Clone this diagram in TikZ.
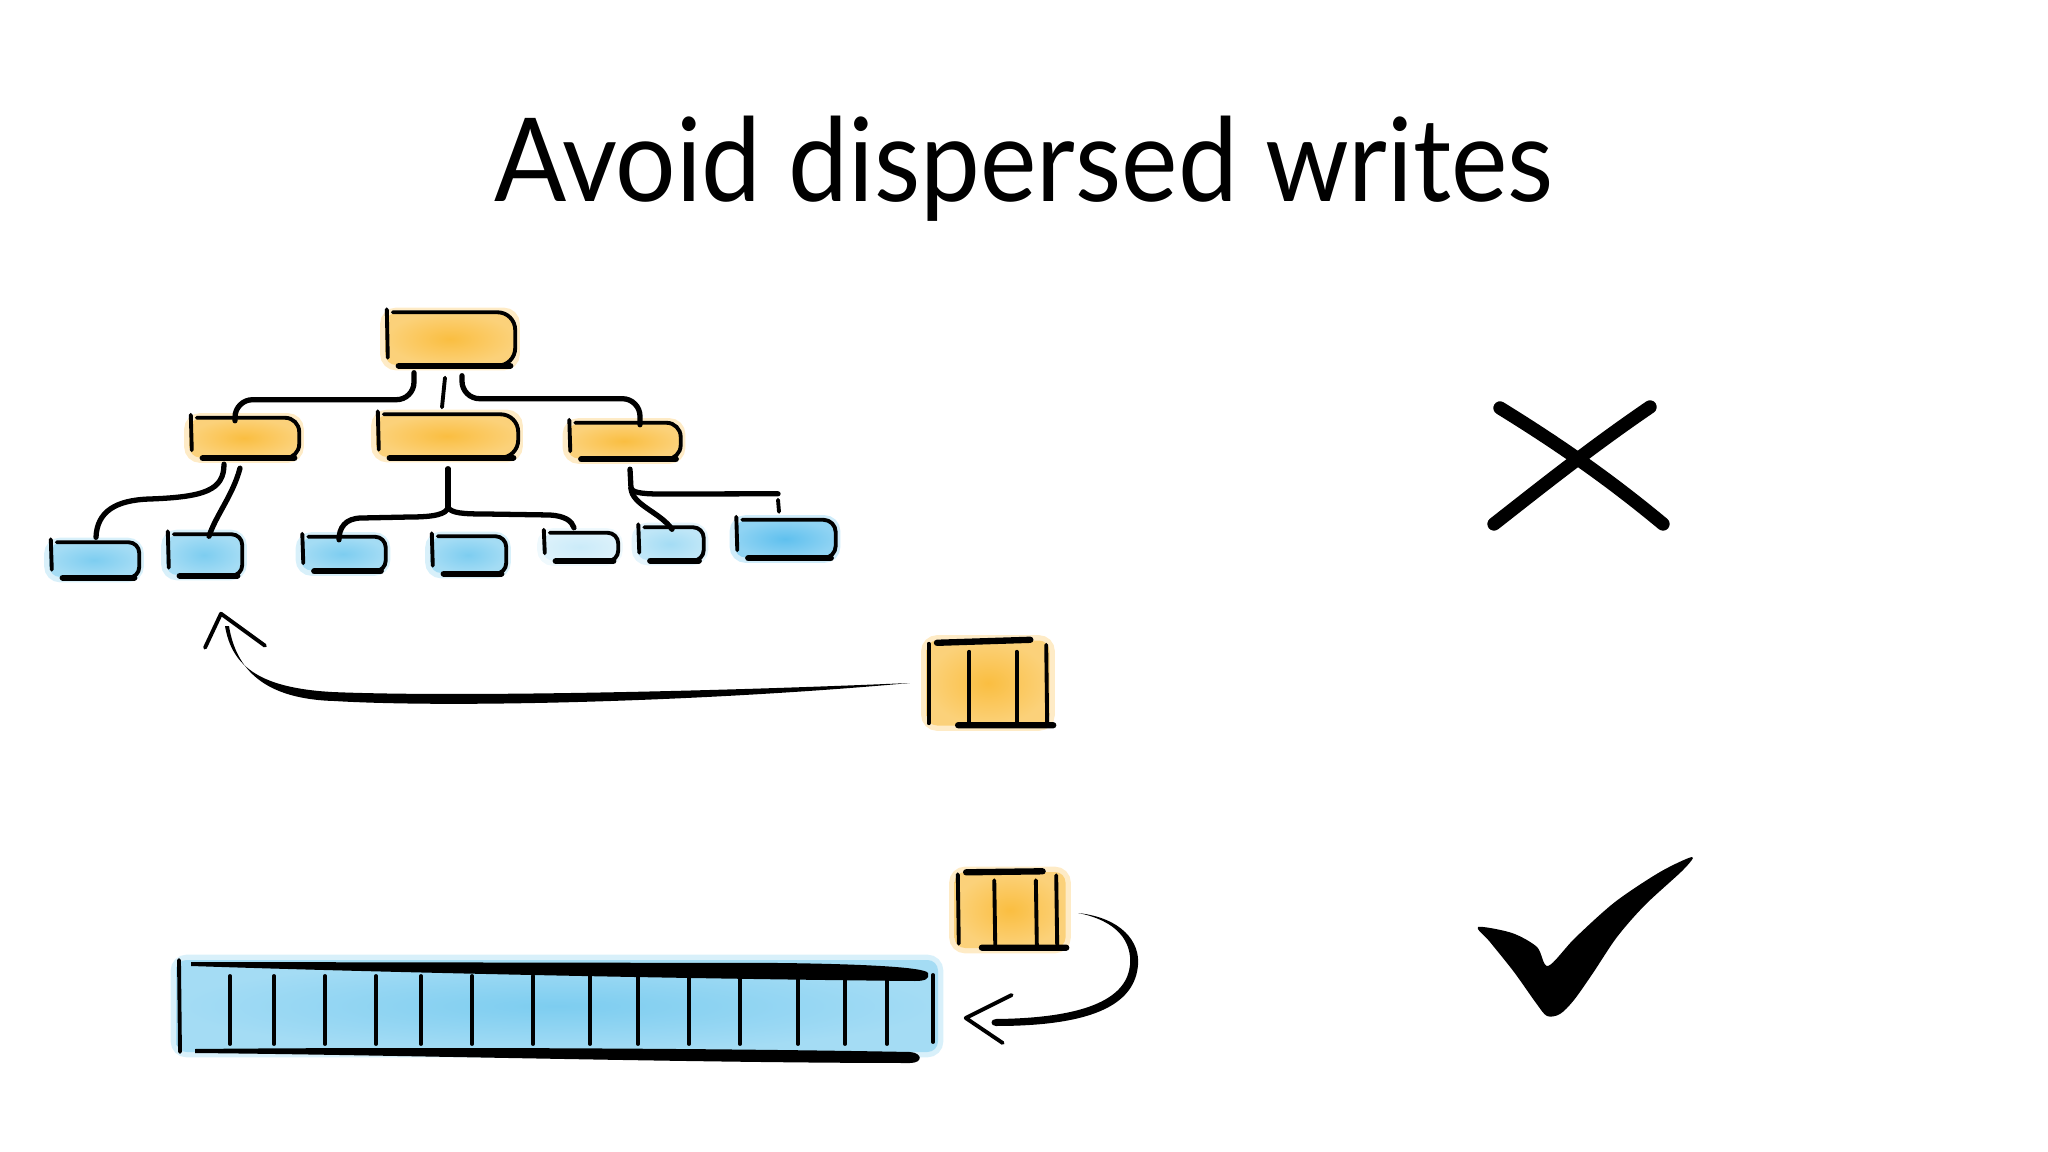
\documentclass[tikz,border=0pt]{standalone}
\usepackage{fontspec}
\setmainfont{Lato}
\usetikzlibrary{calc}

\definecolor{washorange}{RGB}{250,190,65}
\definecolor{washblue}{RGB}{125,205,240}
\definecolor{deepblue}{RGB}{95,192,238}
\colorlet{paleblue}{washblue!40}
\colorlet{softblue}{washblue!70}

\begin{document}
\begin{tikzpicture}[x=0.01cm, y=-0.01cm,
    % hand-drawn strokes
    pen/.style={black, line width=1.1pt, line cap=round, line join=round},
    link/.style={black, line width=1.5pt, line cap=round, line join=round},
    heavy/.style={black, line width=1.8pt, line cap=round},
    dims/.style 2 args={minimum width=#1*0.01cm, minimum height=#2*0.01cm},
    % watercolour washes
    wash/.style={rectangle, inner sep=0pt, rounded corners=3pt,
                 inner color=#1, outer color=#1!70,
                 preaction={draw=#1!30, line width=3pt}},
    orangebox/.style={wash=washorange},
    bluebox/.style={wash=washblue}
]
\useasboundingbox (0,0) rectangle (2048,1152);

% --- Title ---
\node[anchor=base, font=\fontsize{33}{40}\selectfont] (title) at (1024,202)
    {\scalebox{0.92}[1]{Avoid dispersed writes}};

% --- Tree: root and second row ---
\node[orangebox, dims={129}{52}] (root) at (450,339) {};
\node[orangebox, dims={109}{39}] (left) at (244,438) {};
\node[orangebox, dims={141}{42}] (mid) at (447,436) {};
\node[orangebox, dims={112}{35}] (right) at (624,441) {};

% --- Tree: leaves ---
\node[bluebox, dims={89}{34}] (l1) at (94,560) {};
\node[bluebox, dims={75}{40}] (l2) at (204,555) {};
\node[bluebox, dims={84}{33}] (l3) at (343,554) {};
\node[bluebox, dims={75}{36}] (l4) at (468,555) {};
\node[wash=paleblue, dims={75}{27}] (l5) at (580,547) {};
\node[wash=softblue, dims={66}{32}] (l6) at (670,544) {};
\node[wash=deepblue, dims={100}{37}] (l7) at (785,539) {};

% --- Sketchy outlines of the tree boxes ---
\foreach \nm/\r in {root/5pt, left/4pt, mid/5pt, right/4pt, l1/3pt, l2/3pt,
                    l3/3pt, l4/3pt, l5/3pt, l6/3pt, l7/3.5pt} {
  \draw[pen] ($(\nm.north west)+(2,-3)$) -- ($(\nm.south west)+(3,-8)$);
  \draw[pen, rounded corners=\r] ($(\nm.north west)+(8,0)$) -- (\nm.north east)
      -- (\nm.south east) -- ($(\nm.south west)+(14,0)$);
  \draw[heavy] ($(\nm.south east)+(-5,0)$) -- ($(\nm.south west)+(14,0)$);
}

% --- Tree links: root to second row ---
\draw[link, rounded corners=5pt] ($(root.south)+(-36,7)$) -- ++(0,27) -| ($(left.north)+(-9,3)$);
\draw[pen] ($(root.south)+(-5,12)$) -- ($(mid.north)+(-5,-7)$);
\draw[link, rounded corners=5pt] ($(root.south)+(12,10)$) -- ++(0,23) -| ($(right.north)+(16,2)$);

% --- Tree links: second row to leaves ---
\draw[link] ($(left.south)+(-20,6)$) .. controls (224,490) and (205,497) .. (150,499)
    .. controls (115,500) and (97,512) .. ($(l1.north)+(2,-5)$);
\draw[link] ($(left.south)+(-4,10)$) .. controls (233,495) and (216,515) .. ($(l2.north)+(5,2)$);

\coordinate (fork) at ($(mid.south)+(1,50)$);
\draw[link] ($(mid.south)+(1,11)$) -- (fork);
\draw[link] (fork) .. controls (446,514) and (435,517) .. (410,517) -- (362,518)
    .. controls (345,518) and (339,528) .. ($(l3.north)+(-4,3)$);
\draw[link] (fork) .. controls (452,513) and (462,514) .. (485,514) -- (550,515)
    .. controls (565,516) and (572,521) .. ($(l5.north)+(-6,-5)$);

\coordinate (rfork) at ($(right.south)+(7,29)$);
\draw[link] ($(right.south)+(6,10)$) -- (rfork);
\draw[link] (rfork) .. controls (632,505) and (660,512) .. ($(l6.north)+(2,2)$);
\draw[link] (rfork) .. controls (632,492) and (640,494) .. (660,494) -- ($(l7.north)+(-7,-26)$);
\draw[pen] ($(l7.north)+(-7,-20)$) -- ($(l7.north)+(-6,-8)$);

% --- Upper buffer and its scattered write ---
\node[orangebox, dims={123}{85}] (buf1) at (988,683) {};
\draw[pen] ($(buf1.north west)+(3,4)$) -- ($(buf1.south west)+(3,-3)$);
\draw[pen] ($(buf1.north east)+(-4,5)$) -- ($(buf1.south east)+(-3,-1)$);
\foreach \pos in {0.35,0.73}
  \draw[pen] ($(buf1.north west)!\pos!(buf1.north east)+(0,12)$) -- ($(buf1.south west)!\pos!(buf1.south east)+(0,-2)$);
\draw[heavy] ($(buf1.north west)!0.09!(buf1.north east)+(0,3)$) -- ($(buf1.north west)!0.84!(buf1.north east)$);
\draw[heavy] ($(buf1.south west)!0.26!(buf1.south east)+(0,-1)$) -- ($(buf1.south east)+(3,-1)$);

\coordinate (a1start) at ($(buf1.west)+(-16,0)$);
\coordinate (a1tip) at ($(l2.south)+(17,38)$);
\fill (a1start) .. controls (700,692) and (450,697) .. (332,692)
    .. controls (262,688) and (232,668) .. (225,626) -- (229,626)
    .. controls (236,670) and (265,699) .. (334,701)
    .. controls (450,708) and (700,702) .. (a1start) -- cycle;
\draw[pen] ($(a1tip)+(-16,34)$) -- (a1tip) -- ($(a1tip)+(44,32)$);

% --- Lower buffer appended to the log ---
\node[bluebox, dims={762}{92}] (bar) at (557,1006) {};
\draw[pen] (179,960) -- (180,1052);
\draw[pen] (933,975) -- (933,1042);
\foreach \x in {230,274,325,376,421,472,533,590,638,689,740,798,845,887}
  \draw[pen] (\x,976) -- (\x,1044);
\fill (191,962) -- (780,963) .. controls (860,964) and (925,967) .. (928,973)
    .. controls (930,979) and (925,981) .. (915,981)
    .. controls (700,979) and (400,973) .. (191,966) -- cycle;
\fill (195,1049) .. controls (400,1047) and (700,1048) .. (910,1052)
    .. controls (923,1053) and (923,1063) .. (910,1063)
    .. controls (700,1063) and (400,1055) .. (195,1053) -- cycle;

\node[orangebox, dims={111}{76}] (buf2) at (1010,910) {};
\draw[pen] ($(buf2.north west)+(4,3)$) -- ($(buf2.south west)+(5,-5)$);
\draw[pen] ($(buf2.north east)+(-10,4)$) -- ($(buf2.south east)+(-9,-3)$);
\foreach \pos in {0.36,0.73}
  \draw[pen] ($(buf2.north west)!\pos!(buf2.north east)+(0,9)$) -- ($(buf2.south west)!\pos!(buf2.south east)+(1,-2)$);
\draw[heavy] ($(buf2.north west)!0.11!(buf2.north east)+(0,1)$) -- ($(buf2.north west)!0.79!(buf2.north east)$);
\draw[heavy] ($(buf2.south west)!0.25!(buf2.south east)+(0,-1)$) -- ($(buf2.south east)+(0,-1)$);

\coordinate (a2start) at ($(buf2.east)+(12,3)$);
\coordinate (a2tip) at ($(bar.east)+(27,12)$);
\fill (a2start) .. controls (1122,918) and (1140,942) .. (1138,965)
    .. controls (1135,1002) and (1098,1026) .. (996,1026)
    .. controls (990,1026) and (990,1019) .. (996,1019)
    .. controls (1092,1018) and (1127,996) .. (1130,965)
    .. controls (1132,942) and (1118,921) .. (a2start) -- cycle;
\draw[pen] ($(a2tip)+(46,-23)$) -- (a2tip) -- ($(a2tip)+(37,25)$);

% --- Verdicts ---
\draw[line width=3.8pt, line cap=round] (1500,408) .. controls (1560,445) and (1610,480) .. (1663,524);
\draw[line width=3.8pt, line cap=round] (1650,407) .. controls (1590,448) and (1540,488) .. (1494,524);
\fill plot[smooth cycle, tension=0.5] coordinates {(1478,927) (1512,933) (1537,947)
    (1548,966) (1575,938) (1615,902) (1660,872) (1692,857) (1683,870) (1645,905)
    (1617,937) (1593,973) (1574,1000) (1560,1014) (1547,1016) (1536,1003)
    (1514,972) (1490,942)};

\end{tikzpicture}
\end{document}
